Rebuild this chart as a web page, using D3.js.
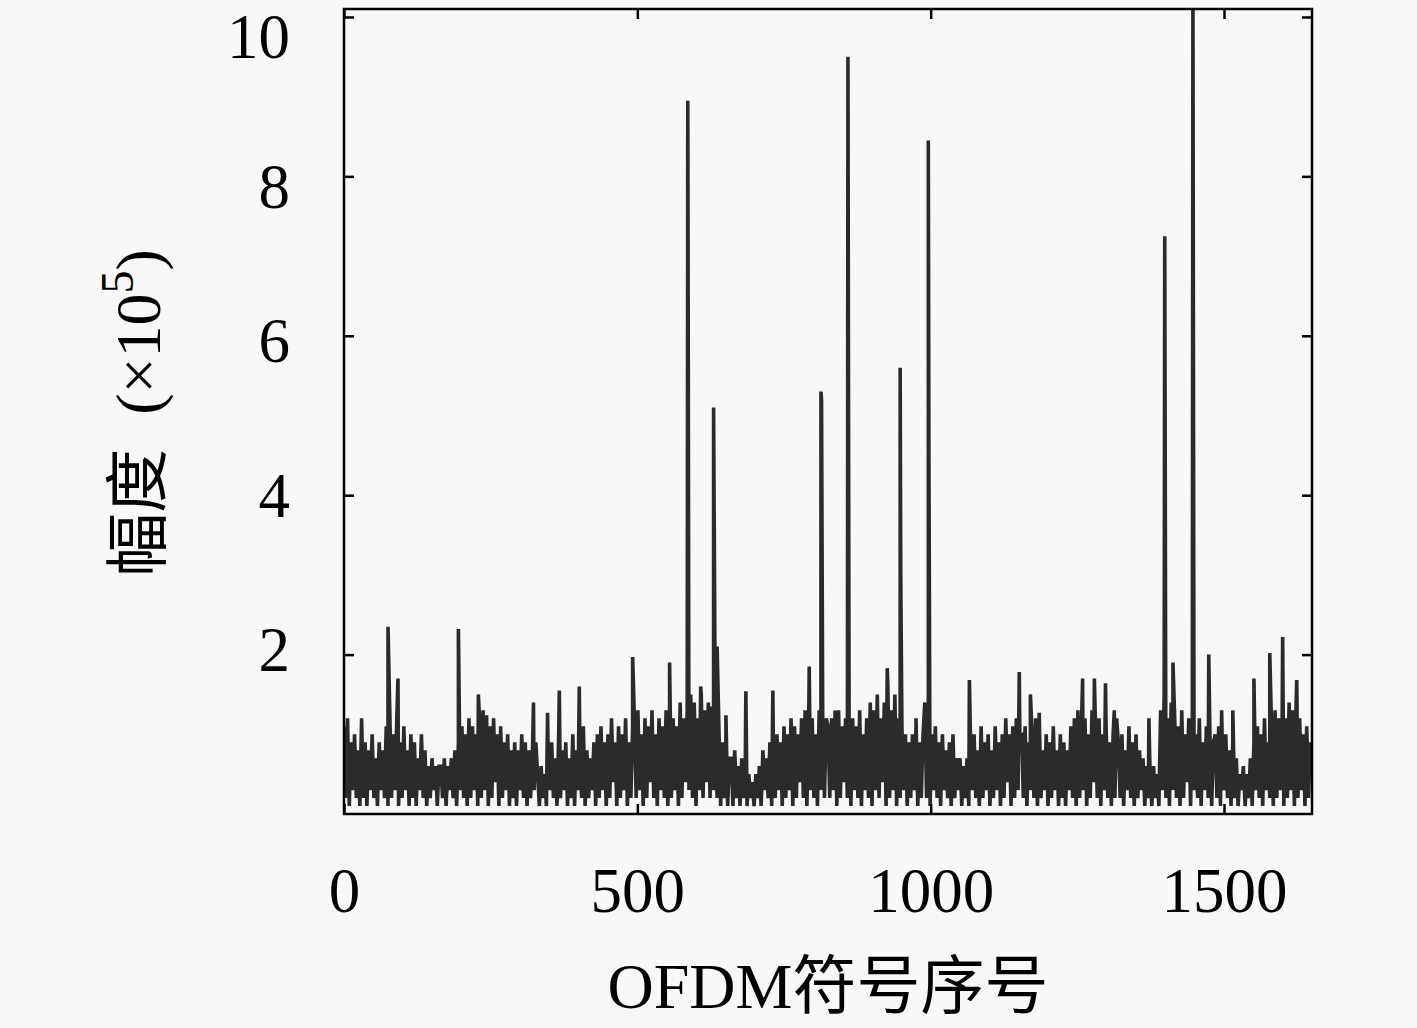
<!DOCTYPE html>
<meta charset="utf-8">
<script src="https://d3js.org/d3.v7.min.js"></script>
<style>
  body { margin: 0; background: #f8f8f8; }
  .tick text { font-family: "Liberation Serif", "DejaVu Serif", serif; font-size: 63px; fill: #000; }
  .tick line { stroke: #000; stroke-width: 2.5; }
</style>
<div id="chart"></div>
<script>

// tick values
var xTicks = [0, 500, 1000, 1500];
var yTicks = [2, 4, 6, 8, 10];

// background amplitude (units of 1e4), one sample every 3 symbols
var noiseAmp = [
  11,2,12,1,9,3,10,2,8,1, 12,2,9,1,8,3,10,2,7,1, 9,3,8,2,11,1,13,2,10,3, 12,1,9,2,11,3,8,1,10,2, 9,1,7,3,10,2,8,1,6,2, 7,3,6,1,6,
  6,2,7,1,6,3,7,2,8,1, 9,3,11,2,10,1,12,2,11,3, 10,1,12,2,13,3,10,1,11,2, 12,4,10,1,11,2,9,3,10,1, 8,2,9,1,8,3,10,2,9,1, 8,2,7,3,9,
  5,1,6,2,5,1,8,3,9,2, 7,1,10,2,8,3,9,1,7,2, 10,1,8,3,9,2,11,1,8,2, 7,3,9,1,10,2,11,3,9,1, 10,2,12,4,9,1,11,2,10,3, 12,1,9,2,11,
  12,2,13,3,10,1,12,2,11,4, 13,2,10,1,12,3,11,2,13,1, 10,2,12,3,11,1,14,2,12,4, 13,3,15,2,14,1,12,3,15,2, 13,4,14,2,12,3,10,2,11,1, 9,2,8,1,7,
  7,1,8,2,6,1,7,2,6,1, 5,2,4,1,5,2,6,1,8,3, 7,2,9,1,8,2,10,3,9,1, 11,2,10,3,12,1,11,2,10,4, 12,2,13,1,11,3,12,2,10,1, 13,3,11,2,12,
  11,2,12,3,10,1,13,2,11,4, 12,2,10,1,12,3,11,2,13,1, 10,3,12,2,14,1,13,3,15,2, 12,4,14,1,16,2,13,3,15,1, 12,2,11,3,10,1,9,2,10,3, 11,1,9,2,10,
  14,2,12,1,10,3,11,2,9,1, 10,3,8,2,9,1,10,2,7,3, 7,1,6,2,7,1,9,3,10,2, 8,1,11,2,9,3,10,1,8,2, 11,3,9,1,10,2,12,4,10,1, 11,2,12,3,10,
  10,2,11,1,9,3,10,2,12,1, 9,2,8,3,10,1,9,2,11,3, 8,1,10,2,9,1,8,3,11,2, 12,1,13,2,11,3,12,1,10,2, 13,4,11,2,12,1,10,3,11,2, 9,1,10,2,12,
  9,2,10,1,8,3,11,2,9,1, 10,2,8,3,7,1,6,2,5,1, 6,2,5,1,13,3,15,2,12,1, 14,3,12,2,11,1,13,2,10,4, 12,1,11,3,10,2,12,1,9,3, 11,2,10,1,9,
  10,2,11,1,9,3,10,2,8,1, 9,2,7,1,5,3,6,1,5,2, 7,1,9,3,11,2,10,1,12,3, 9,2,11,1,13,2,12,3,10,1, 12,2,14,3,13,1,14,2,12,3, 10,1,11,2,9
];

// isolated large samples (symbol index, amplitude in 1e5)
var peakIndex = [75, 92, 195, 229, 243, 323, 347, 367, 401, 492,
                 555, 586, 587, 608, 625, 630, 636, 651, 685, 731,
                 793, 813, 814, 837, 859, 860, 926, 948, 949, 975,
                 996, 997, 1066, 1151, 1170, 1185, 1259, 1279, 1298, 1313,
                 1372, 1399, 1413, 1447, 1448, 1474, 1496, 1515, 1551, 1578,
                 1600, 1624];
var peakValue = [2.35, 1.7, 2.32, 1.5, 1.24, 1.4, 1.27, 1.55, 1.6, 1.97,
                 1.9, 8.95, 4.9, 1.6, 1.35, 5.1, 2.1, 1.24, 1.54, 1.55,
                 1.85, 5.3, 5.2, 1.3, 9.5, 5.0, 1.83, 5.6, 3.0, 1.2,
                 8.45, 4.5, 1.68, 1.78, 1.5, 1.27, 1.7, 1.7, 1.64, 1.3,
                 1.2, 7.25, 1.9, 10.5, 5.1, 2.0, 1.3, 1.3, 1.7, 2.02,
                 2.22, 1.68];

var W = 1417, H = 1028;
var plot = {left: 344, right: 1312, top: 9, bottom: 814};

var svg = d3.select("#chart")
  .append("svg")
    .attr("width", W)
    .attr("height", H);

var x = d3.scaleLinear()
  .domain([0, 1650])
  .range([plot.left, plot.right]);

var y = d3.scaleLinear()
  .domain([0, 10.1])
  .range([plot.bottom, plot.top]);

// build the series: background samples plus the isolated peaks
var series = noiseAmp.map(function(v, i) { return {n: i * 3, v: v / 10}; });
peakIndex.forEach(function(n, i) { series.push({n: n, v: peakValue[i]}); });
series.sort(function(a, b) { return a.n - b.n; });

svg.append("clipPath")
    .attr("id", "clip")
  .append("rect")
    .attr("x", plot.left)
    .attr("y", plot.top)
    .attr("width", plot.right - plot.left)
    .attr("height", plot.bottom - plot.top);

var line = d3.line()
  .x(function(d) { return x(d.n); })
  .y(function(d) { return y(d.v); });

svg.append("path")
  .datum(series)
  .attr("clip-path", "url(#clip)")
  .attr("fill", "none")
  .attr("stroke", "#2b2b2b")
  .attr("stroke-width", 3.6)
  .attr("d", line);

// axes, ticks pointing inward on all four sides
svg.append("g")
  .attr("transform", "translate(0," + plot.bottom + ")")
  .call(d3.axisBottom(x).tickValues(xTicks).tickFormat(d3.format("d"))
    .tickSize(-10).tickSizeOuter(0).tickPadding(53));

// labels sit a little lower toward the top, as in the original
svg.append("g")
  .attr("transform", "translate(" + plot.left + ",0)")
  .call(d3.axisLeft(y).tickValues(yTicks).tickFormat(d3.format("d"))
    .tickSize(-10).tickSizeOuter(0).tickPadding(54))
  .selectAll("text")
    .attr("dy", function(d) { return (16 + (d - 2) * 2.5 + (d === 10 ? 5 : 0)) + "px"; });

svg.append("g")
  .attr("transform", "translate(0," + plot.top + ")")
  .call(d3.axisTop(x).tickValues(xTicks).tickSize(-10).tickSizeOuter(0).tickFormat(""));

svg.append("g")
  .attr("transform", "translate(" + plot.right + ",0)")
  .call(d3.axisRight(y).tickValues(yTicks).tickSize(-10).tickSizeOuter(0).tickFormat(""));

svg.selectAll(".domain").remove();

// frame
svg.append("rect")
  .attr("x", plot.left)
  .attr("y", plot.top)
  .attr("width", plot.right - plot.left)
  .attr("height", plot.bottom - plot.top)
  .attr("fill", "none")
  .attr("stroke", "#000")
  .attr("stroke-width", 2.5);

// x label
var xl = svg.append("text")
  .attr("x", 828)
  .attr("y", 1008)
  .attr("text-anchor", "middle")
  .attr("font-size", "64px")
  .attr("fill", "#000");
xl.append("tspan").attr("font-family", "'Liberation Serif', serif").text("OFDM");
xl.append("tspan").attr("font-family", "'Noto Sans CJK SC', sans-serif").text("符号序号");

// y label
var yl = svg.append("text")
  .attr("transform", "translate(160,413) rotate(-90)")
  .attr("text-anchor", "middle")
  .attr("font-size", "64px")
  .attr("fill", "#000");
yl.append("tspan").attr("font-family", "'Noto Sans CJK SC', sans-serif").text("幅度");
yl.append("tspan").attr("font-family", "'Liberation Serif', serif").attr("dx", 34).text("(×10");
yl.append("tspan").attr("font-family", "'Liberation Serif', serif").attr("font-size", "46px").attr("dy", -27).text("5");
yl.append("tspan").attr("font-family", "'Liberation Serif', serif").attr("dy", 27).text(")");

</script>
